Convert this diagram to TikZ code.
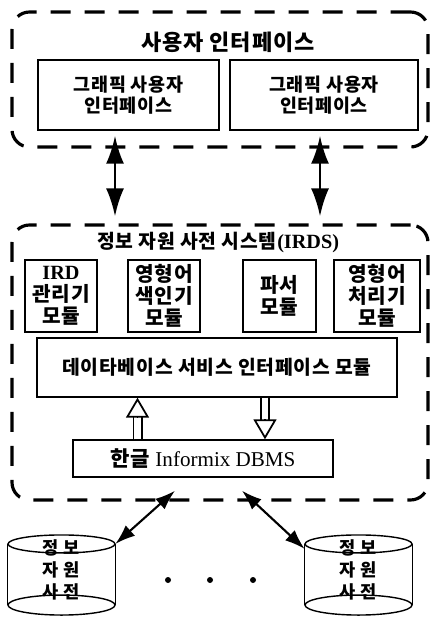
\documentclass[tikz,border=0pt]{standalone}
\usepackage{fontspec}
\setmainfont{Liberation Serif}
\newfontfamily\kr[LetterSpace=4]{Noto Sans CJK KR}
\usetikzlibrary{fit,arrows.meta}
\tikzset{>=latex}
\newcommand{\hk}[1]{{\kr\bfseries #1}}

\begin{document}
\begin{tikzpicture}
    [
      x=0.02cm, y=-0.02cm,
      frame/.style={draw, line width=1.8pt, dash pattern=on 0.4cm off 0.28cm, rounded corners=0.35cm, inner sep=0pt},
      box/.style={draw, thick, align=center, inner sep=0pt},
      module/.style={box, minimum height=1.44cm, font=\kr\bfseries\fontsize{11.5}{12.5}\selectfont},
      db/.style={minimum width=2.14cm, minimum height=1.18cm, inner sep=0pt, align=center, font=\kr\bfseries\fontsize{10}{12.5}\selectfont},
      bigarr/.style={{Latex[length=0.56cm,width=0.36cm]}-{Latex[length=0.56cm,width=0.36cm]}, line width=1.6pt},
      diagarr/.style={{Latex[length=0.4cm,width=0.28cm]}-{Latex[length=0.4cm,width=0.28cm]}, line width=1.2pt},
      hollow/.style={double, double distance=0.13cm, line width=1pt, shorten >=0.38cm},
      hollowtip/.style={-{Triangle[open,length=0.4cm,width=0.46cm]}, line width=1pt}
    ]
    \useasboundingbox (0,0) rectangle (433,617);

    % user interface
    \coordinate (ui-nw) at (12,12);
    \coordinate (ui-se) at (428,147);
    \node [frame, fit=(ui-nw) (ui-se)] (ui) {};
    \node (ui-title) at (228,42) {\hk{\fontsize{12.5}{14}\selectfont 사용자 인터페이스}};
    \node (gui1) [box, minimum width=3.62cm, minimum height=1.4cm, font=\kr\bfseries\fontsize{10.5}{12}\selectfont] at (128.5,95) {그래픽 사용자\\인터페이스};
    \node (gui2) [box, minimum width=3.76cm, minimum height=1.4cm, font=\kr\bfseries\fontsize{10.5}{12}\selectfont] at (324,95) {그래픽 사용자\\인터페이스};

    % IRDS
    \coordinate (irds-nw) at (12,225);
    \coordinate (irds-se) at (428,500);
    \node [frame, fit=(irds-nw) (irds-se)] (irds) {};
    \node (irds-title) at (218,242) {\hk{\fontsize{11}{13}\selectfont 정보 자원 사전 시스템}\textbf{\fontsize{11.5}{13}\selectfont (IRDS)}};
    \node (ird-mgr) [module, minimum width=1.44cm] at (61,296) {\textbf{\rmfamily IRD}\\관리기\\모듈};
    \node (indexer) [module, minimum width=1.44cm] at (164,296) {영형어\\색인기\\모듈};
    \node (parser) [module, minimum width=1.46cm] at (279.5,296) {파서\\모듈};
    \node (processor) [module, minimum width=1.72cm] at (377,296) {영형어\\처리기\\모듈};
    \node (dbsi) [box, minimum width=7.2cm, minimum height=1.18cm, font=\kr\bfseries\fontsize{11}{13}\selectfont] at (217,367.5) {데이타베이스 서비스 인터페이스 모듈};
    \node (dbms) [box, minimum width=5.2cm, minimum height=0.74cm, font=\fontsize{12}{14}\selectfont] at (203,458.5) {\hk{한글} Informix DBMS};

    % dictionaries
    \node (db1) [db] at (61.5,569.5) {정 보\\자 원\\사 전};
    \node (db2) [db] at (358.5,569.5) {정 보\\자 원\\사 전};
    \foreach \n in {db1,db2} {
      \draw [thick] ([yshift=-0.1cm]\n.north) ellipse [x radius=1.07cm, y radius=0.18cm];
      \draw [thick] ([yshift=-0.1cm]\n.south) ellipse [x radius=1.07cm, y radius=0.2cm];
      \draw [thick] ([yshift=-0.1cm]\n.north west) -- ([yshift=-0.1cm]\n.south west)
                    ([yshift=-0.1cm]\n.north east) -- ([yshift=-0.1cm]\n.south east);
    }
    \foreach \x in {168,210,253}
      \fill (\x,580) circle (3);

    \draw [bigarr, shorten <=0.1cm, shorten >=0.14cm] ([xshift=-0.27cm]gui1.south) -- ([xshift=-0.27cm]gui1.south |- irds.north);
    \draw [bigarr, shorten <=0.1cm, shorten >=0.14cm] ([xshift=-0.08cm]gui2.south) -- ([xshift=-0.08cm]gui2.south |- irds.north);

    \draw [hollow] ([xshift=-1.31cm]dbms.north) -- ([xshift=-1.31cm]dbms.north |- dbsi.south);
    \draw [hollowtip] ([xshift=-1.31cm,yshift=-0.4cm]dbms.north |- dbsi.south) -- ([xshift=-1.31cm]dbms.north |- dbsi.south);
    \draw [hollow] ([xshift=1.24cm]dbms.north |- dbsi.south) -- ([xshift=1.24cm]dbms.north);
    \draw [hollowtip] ([xshift=1.24cm,yshift=0.4cm]dbms.north) -- ([xshift=1.24cm]dbms.north);

    \draw [diagarr] ([xshift=-0.56cm,yshift=-0.26cm]dbms.south) -- ([yshift=-0.1cm]db1.north east);
    \draw [diagarr] ([xshift=0.78cm,yshift=-0.26cm]dbms.south) -- ([yshift=-0.2cm]db2.north west);
  \end{tikzpicture}
\end{document}
